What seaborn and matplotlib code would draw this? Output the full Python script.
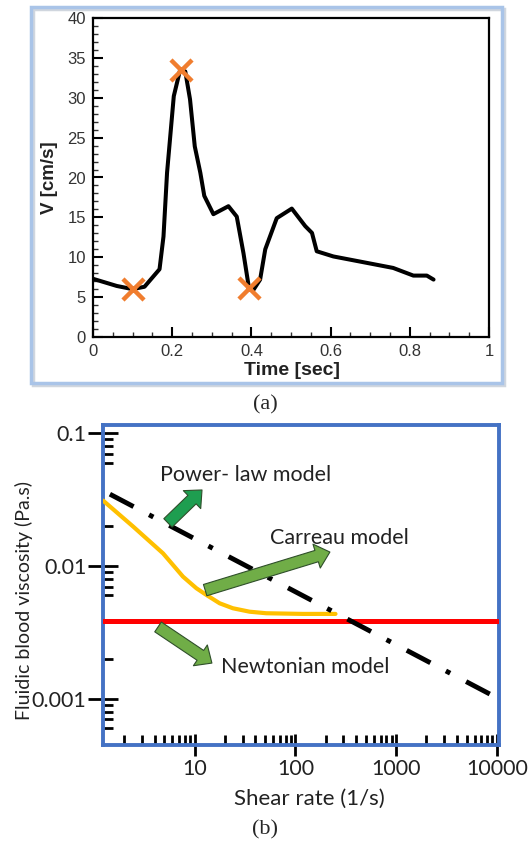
import numpy as np
import pandas as pd
import seaborn as sns
import matplotlib
matplotlib.use("Agg")
import matplotlib.pyplot as plt
from matplotlib.patches import Rectangle
from matplotlib.ticker import MultipleLocator, LogLocator, FixedLocator, NullFormatter

# ---------------- data: panel (a) ----------------
time_s = [0.0, 0.06, 0.10, 0.13, 0.168, 0.178, 0.187, 0.204, 0.22, 0.233, 0.245, 0.257,
          0.271, 0.281, 0.304, 0.342, 0.363, 0.38, 0.393, 0.405, 0.422, 0.435, 0.464,
          0.502, 0.536, 0.553, 0.565, 0.607, 0.691, 0.758, 0.809, 0.843, 0.86]
velocity = [7.3, 6.4, 6.0, 6.3, 8.5, 12.6, 20.6, 30.2, 33.5, 33.3, 29.8, 23.9,
            20.6, 17.7, 15.4, 16.4, 15.1, 10.5, 6.4, 5.9, 7.2, 11.0, 14.9,
            16.1, 13.9, 13.05, 10.75, 10.1, 9.3, 8.66, 7.7, 7.7, 7.2]
mark_t = [0.10, 0.222, 0.395]
mark_v = [6.0, 33.5, 6.2]

# ---------------- data: panel (b) ----------------
power_rate = [1.44, 10000]
power_visc = [0.0347, 0.00102]
carreau_rate = [1.236, 2.45, 4.85, 7.65, 10.4, 13.1, 17.7, 23.9, 35.1, 51.3, 119, 250]
carreau_visc = [0.0310, 0.0198, 0.01245, 0.00832, 0.00680, 0.00605, 0.00524, 0.00481,
                0.00453, 0.00441, 0.00436, 0.00436]
newton_rate = [1.23, 10500]
newton_visc = [0.00385, 0.00385]
x_ticks_b = [10, 100, 1000, 10000]
x_ticklabels_b = ["10", "100", "1000", "10000"]
y_ticks_b = [0.1, 0.01, 0.001]
y_ticklabels_b = ["0.1", "0.01", "0.001"]

sns.set_theme(style="white")
plt.rcParams['font.family'] = ['Liberation Sans', 'DejaVu Sans']

W, H = 530, 844
fig = plt.figure(figsize=(W / 100, H / 100), dpi=100)

def ax_rect(l, t, r, b):
    return [l / W, 1 - b / H, (r - l) / W, (b - t) / H]

# ================= panel (a) =================
fig.patches.append(Rectangle((33 / W, 1 - 385 / H), 471 / W, 376 / H, transform=fig.transFigure,
                             fill=False, ec="#d0d6de", lw=2.5, zorder=0))
fig.patches.append(Rectangle((31 / W, 1 - 383 / H), 471 / W, 376 / H, transform=fig.transFigure,
                             fill=False, ec="#a9c4e8", lw=2.5, zorder=1))

axa = fig.add_axes(ax_rect(93, 18, 489, 337))
df_a = pd.DataFrame({"t": time_s, "v": velocity})
sns.lineplot(data=df_a, x="t", y="v", sort=False, color="black", lw=2.9, ax=axa)
df_m = pd.DataFrame({"t": mark_t, "v": mark_v})
sns.scatterplot(data=df_m, x="t", y="v", marker="x", s=230, color="#f07d2e", linewidth=3.2,
                ax=axa, zorder=5)
axa.set_xlim(0, 1)
axa.set_ylim(0, 40)
for s in axa.spines.values():
    s.set_color("black")
    s.set_linewidth(1.6)
axa.xaxis.set_minor_locator(MultipleLocator(0.05))
axa.yaxis.set_major_locator(MultipleLocator(5))
axa.yaxis.set_minor_locator(MultipleLocator(1))
axa.set_xticks([0, 0.2, 0.4, 0.6, 0.8, 1.0])
axa.set_xticklabels(["0", "0.2", "0.4", "0.6", "0.8", "1"])
axa.tick_params(axis="both", which="major", direction="in", length=7, width=1.5, color="black",
                labelsize=12, labelcolor="#333333", pad=5)
axa.tick_params(axis="both", which="minor", direction="in", length=3.5, width=1.0, color="#333333")
axa.tick_params(left=True, bottom=True, which="both")
axa.set_xlabel("Time [sec]", fontsize=14, fontweight="bold", color="#222222")
axa.set_ylabel("V [cm/s]", fontsize=13.5, fontweight="bold", color="#222222")
axa.xaxis.set_label_coords(0.502, -0.077)
axa.yaxis.set_label_coords(-0.088, 0.498)
axa.grid(False)

fig.text(265 / W, 1 - 405 / H, "(a)", ha="center", va="center", fontsize=16,
         family=["Liberation Serif", "DejaVu Serif"])

# ================= panel (b) =================
axb = fig.add_axes(ax_rect(103, 425, 499, 745))
sns.lineplot(x=newton_rate, y=newton_visc, color="#ff0000", lw=3.6, ax=axb, zorder=3)
sns.lineplot(x=carreau_rate, y=carreau_visc, color="#ffc000", lw=3, ax=axb, zorder=3)
sns.lineplot(x=power_rate, y=power_visc, color="black", lw=3.5, ax=axb, zorder=4,
             linestyle=(0, (5.5, 3.6, 1.0, 3.7)))
axb.set_xscale("log")
axb.set_yscale("log")
axb.set_xlim(1.23, 10500)
axb.set_ylim(0.00045, 0.115)
for s in axb.spines.values():
    s.set_color("#4472c4")
    s.set_linewidth(2.8)
axb.xaxis.set_major_locator(FixedLocator(x_ticks_b))
axb.set_xticklabels(x_ticklabels_b)
axb.yaxis.set_major_locator(FixedLocator(y_ticks_b))
axb.set_yticklabels(y_ticklabels_b)
axb.xaxis.set_minor_locator(LogLocator(base=10, subs=(2, 3, 4, 5, 6, 7, 8, 9), numticks=20))
axb.yaxis.set_minor_locator(LogLocator(base=10, subs=(2, 6, 7, 8, 9), numticks=20))
axb.xaxis.set_minor_formatter(NullFormatter())
axb.yaxis.set_minor_formatter(NullFormatter())
for lab in axb.get_xticklabels() + axb.get_yticklabels():
    lab.set_family(["Lato", "DejaVu Sans"])
axb.tick_params(axis="both", which="major", direction="inout", width=2, color="black",
                labelsize=15.5, labelcolor="#222222")
axb.tick_params(axis="x", which="major", length=16, pad=2)
axb.tick_params(axis="y", which="major", length=22, pad=1)
axb.tick_params(axis="both", which="minor", direction="in", length=7, width=2, color="black")
axb.tick_params(left=True, bottom=True, which="both")
axb.grid(False)
axb.set_xlabel("Shear rate (1/s)", fontsize=16, family=["Lato", "DejaVu Sans"], color="#222222")
axb.set_ylabel("Fluidic blood viscosity (Pa.s)", fontsize=14, family=["Lato", "DejaVu Sans"],
               color="#222222")
axb.xaxis.set_label_coords(0.52, -0.1375)
axb.yaxis.set_label_coords(-0.178, 0.45)

txt_kw = dict(transform=axb.transAxes, ha="center", va="center", fontsize=15.5,
              family=["Lato", "DejaVu Sans"], color="#222222", zorder=6)
axb.text(0.359, 0.844, "Power- law model", **txt_kw)
axb.text(0.598, 0.647, "Carreau model", **txt_kw)
axb.text(0.510, 0.244, "Newtonian model", **txt_kw)

def green_arrow(tail, head, fc):
    axb.annotate("", xy=head, xytext=tail, xycoords="axes fraction", textcoords="axes fraction",
                 arrowprops=dict(arrowstyle="simple,head_length=1.0,head_width=1.8,tail_width=0.85",
                                 fc=fc, ec="#2f4f2a", lw=0.8, shrinkA=0, shrinkB=0,
                                 mutation_scale=10), zorder=7)

green_arrow((0.164, 0.694), (0.250, 0.797), "#1e9e50")
green_arrow((0.258, 0.484), (0.573, 0.603), "#70ad47")
green_arrow((0.139, 0.369), (0.275, 0.256), "#70ad47")

fig.text(265 / W, 1 - 830 / H, "(b)", ha="center", va="center", fontsize=16,
         family=["Liberation Serif", "DejaVu Serif"])

fig.savefig("out.png", dpi=100)
